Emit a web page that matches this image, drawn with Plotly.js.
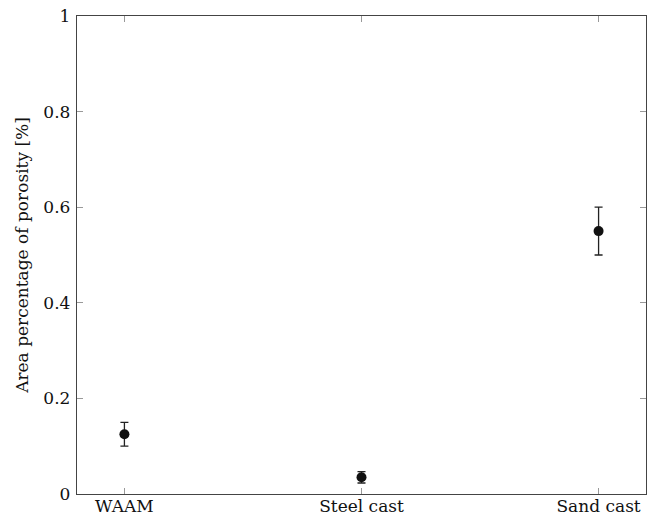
<!DOCTYPE html>
<html>
<head>
<meta charset="utf-8">
<script src="https://cdn.plot.ly/plotly-3.0.1.min.js"></script>
<style>html,body{margin:0;padding:0;background:#fff;}</style>
</head>
<body>
<div id="chart" style="width:650px;height:518px;"></div>
<script>
const categories = ["WAAM", "Steel cast", "Sand cast"];
const porosity = [0.125, 0.035, 0.55];
const porosityErr = [0.025, 0.012, 0.05];
const yTickVals = [0, 0.2, 0.4, 0.6, 0.8, 1];
const yTickText = ["0", "0.2", "0.4", "0.6", "0.8", "1"];

const fontFam = "DejaVu Serif";

const trace = {
  x: [0, 1, 2],
  y: porosity,
  type: "scatter",
  mode: "markers",
  marker: {color: "#111111", size: 10, symbol: "circle"},
  error_y: {type: "data", array: porosityErr, visible: true, color: "#222222", thickness: 1.3, width: 4},
  showlegend: false,
  hoverinfo: "skip"
};

const layout = {
  width: 650,
  height: 518,
  margin: {l: 77, r: 4, t: 16, b: 24},
  paper_bgcolor: "#ffffff",
  plot_bgcolor: "#ffffff",
  font: {family: fontFam, size: 17, color: "#111111"},
  xaxis: {
    range: [-0.2, 2.2],
    tickvals: [0, 1, 2],
    ticktext: categories,
    ticks: "inside",
    ticklen: 6,
    tickcolor: "#999999",
    tickwidth: 1,
    ticklabelstandoff: -4,
    showgrid: false,
    zeroline: false,
    showline: true,
    linecolor: "#444444",
    linewidth: 1.2,
    mirror: "ticks",
    tickfont: {family: fontFam, size: 17, color: "#111111"}
  },
  yaxis: {
    range: [0, 1],
    tickvals: yTickVals,
    ticktext: yTickText,
    ticks: "inside",
    ticklen: 6,
    tickcolor: "#999999",
    tickwidth: 1,
    ticklabelstandoff: 2,
    showgrid: false,
    zeroline: false,
    showline: true,
    linecolor: "#444444",
    linewidth: 1.2,
    mirror: "ticks",
    tickfont: {family: fontFam, size: 17, color: "#111111"},
    title: {text: "Area percentage of porosity [%]", font: {family: fontFam, size: 17, color: "#111111"}, standoff: 10}
  }
};

Plotly.newPlot("chart", [trace], layout, {staticPlot: true, displayModeBar: false});
</script>
</body>
</html>
